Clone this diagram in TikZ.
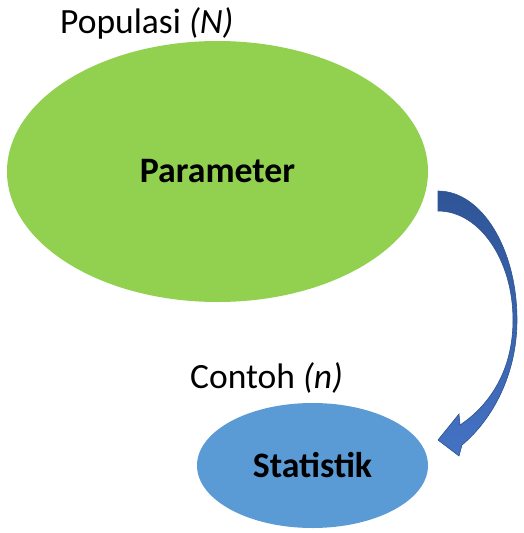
\documentclass[tikz,border=0pt]{standalone}
\usepackage{fontspec}
\setmainfont{Carlito}
\usetikzlibrary{shapes.geometric}
\definecolor{popgreen}{HTML}{92D050}
\definecolor{sampblue}{HTML}{5B9BD5}
\definecolor{arrowtop}{HTML}{2F5597}
\definecolor{arrowbot}{HTML}{4472C4}
\definecolor{arrowline}{HTML}{2F528F}
\tikzset{
  blob/.style={ellipse, inner sep=0pt, font=\fontsize{35.8}{43}\selectfont\bfseries},
  caption/.style={anchor=base west, inner sep=0pt, font=\fontsize{35.5}{43}\selectfont},
  bentarrow/.style={top color=arrowtop, bottom color=arrowbot, draw=arrowline, line width=0.6pt, line join=miter}
}
\begin{document}
\begin{tikzpicture}[x=1pt,y=-1pt]
\useasboundingbox (0,0) rectangle (524,533);
\node[blob, fill=popgreen, minimum width=421pt, minimum height=261pt] (pop) at (217.5,171.5) {Parameter};
\node[blob, fill=sampblue, minimum width=231pt, minimum height=125pt] (samp) at (312.5,465.5) {Statistik};
\node[caption] (popl) at (60,33) {Populasi \textit{(N)}};
\node[caption] (sampl) at (190,388) {Contoh \textit{(n)}};
\coordinate (as) at (438,191);
\coordinate (tip) at (438,440);
\draw[bentarrow] (as)
  .. controls (481.6,191) and (517,248.8) .. (517,320)
  .. controls (517,375) and (492,420) .. (462,445)
  -- (459,456) -- (tip) -- (459,414) -- (460,425)
  .. controls (490,405) and (513,370) .. (513,320)
  .. controls (513,259.8) and (479.4,211) .. (438,211)
  -- cycle;
\end{tikzpicture}
\end{document}
